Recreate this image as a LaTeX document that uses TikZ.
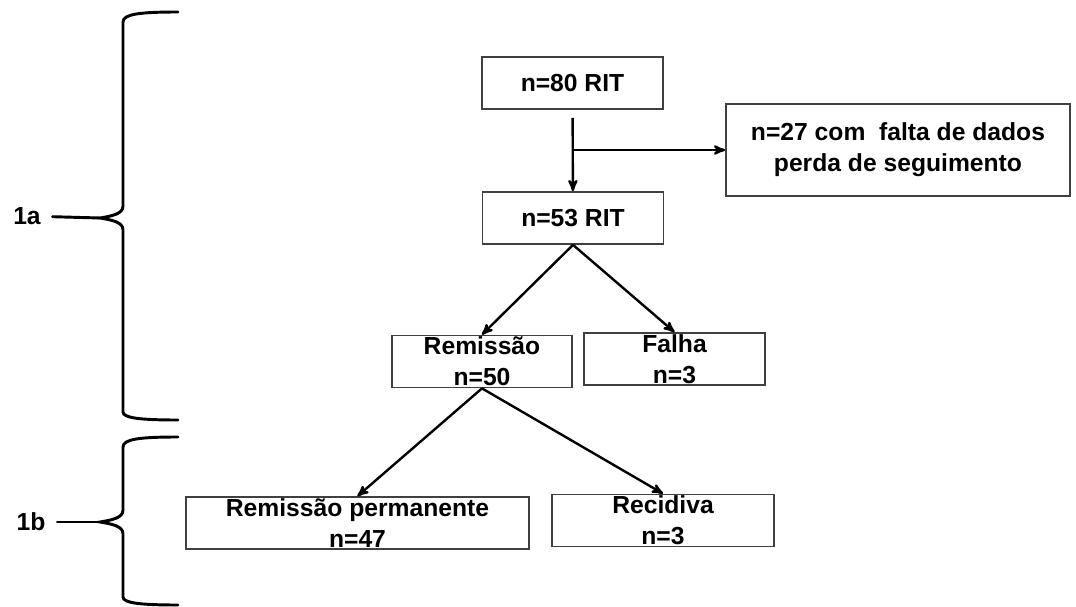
\documentclass[tikz,border=0pt]{standalone}
\usepackage{fontspec}
\setmainfont{Liberation Sans}
\usetikzlibrary{shapes}
\usetikzlibrary{arrows}
\tikzset{
	flownode/.style = {
		align=center,
		inner sep=0pt,
		text centered,
		font=\fontsize{18.5}{23}\selectfont\bfseries
	},
	node_box/.style = {
		flownode,
		rectangle,
		draw=black!75,
		fill=white,
		line width=1.3pt,
		minimum height=39pt
	},
	node_lbl/.style = {
		flownode
	},
	brace_line/.style = {
		-,
		line width=2.2pt,
		line cap=round
	},
}
\begin{document}
\begin{tikzpicture}[->,>=stealth',line width=1.8pt,x=0.75pt,y=-0.75pt]
\useasboundingbox (0,0) rectangle (1076,607);
% boxes
\node [node_box, minimum width=135.75pt] (rit80) at (572.5,83) {n=80 RIT};
\node [node_box, minimum width=135.75pt] (rit53) at (573,218) {n=53 RIT};
\node [node_box, minimum width=258pt, minimum height=69pt] (lost) at (898,150) {n=27 com~ falta de dados\\perda de seguimento};
\node [node_box, minimum width=135pt] (remis) at (482,361.5) {Remissão\\n=50};
\node [node_box, minimum width=135.75pt] (fail) at (674.5,359) {Falha\\n=3};
\node [node_box, minimum width=257.25pt] (perm) at (357.5,523) {Remissão permanente\\n=47};
\node [node_box, minimum width=166.5pt] (relap) at (663,520.5) {Recidiva\\n=3};
% arrows
\coordinate (split) at (573,150);
\draw [shorten <=6pt] (rit80) -- (rit53);
\draw (split) -- (lost.west);
\draw (rit53.south) -- (remis.north);
\draw (rit53.south) -- (fail.north);
\draw (remis.south) -- (perm.north);
\draw (remis.south) -- (relap.north);
% braces
\node [node_lbl] (lbl1a) at (27,216) {1a};
\node [node_lbl] (lbl1b) at (31,522) {1b};
\coordinate (tip1a) at (100,218);
\coordinate (tip1b) at (100,522);
\draw [brace_line] (178,12) .. controls (140,12) and (123,14) .. (123,22) -- (123,206) .. controls (123,214) and (112,216) .. (tip1a) .. controls (112,220) and (123,222) .. (123,230) -- (123,412) .. controls (123,418) and (140,420) .. (178,420);
\draw [brace_line] (178,437) .. controls (140,437) and (123,439) .. (123,447) -- (123,510) .. controls (123,518) and (112,520) .. (tip1b) .. controls (112,524) and (123,526) .. (123,534) -- (123,597) .. controls (123,603) and (140,605) .. (178,605);
\draw [brace_line, shorten <=8pt] (lbl1a) -- (tip1a);
\draw [brace_line, shorten <=8pt] (lbl1b) -- (tip1b);
\end{tikzpicture}
\end{document}
